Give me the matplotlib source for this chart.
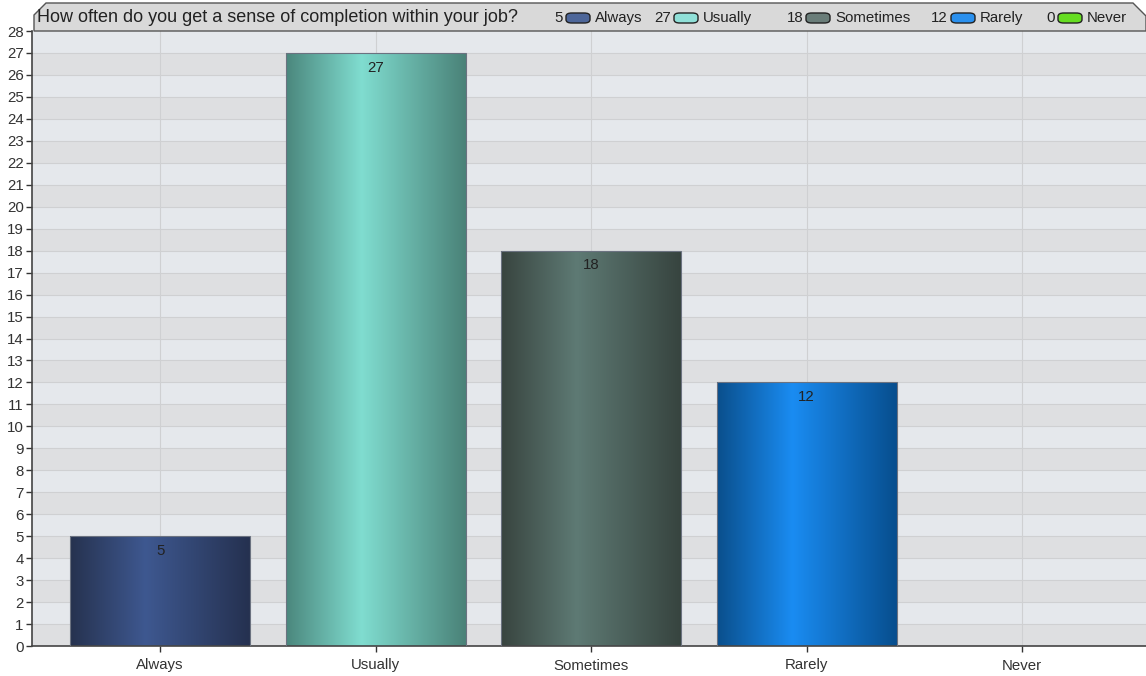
import numpy as np
import matplotlib
matplotlib.use("Agg")
import matplotlib.pyplot as plt
from matplotlib.colors import LinearSegmentedColormap
from matplotlib.patches import Rectangle, Polygon, FancyBboxPatch

plt.rcParams['font.family'] = ['Liberation Sans', 'DejaVu Sans']

title = "How often do you get a sense of completion within your job?"
categories = ["Always", "Usually", "Sometimes", "Rarely", "Never"]
values = [5, 27, 18, 12, 0]
# (edge, centre, right edge) colours of each bar's gradient
edge_colors = ["#26324f", "#4b877d", "#38443f", "#0a4f8c", "#3e9a10"]
mid_colors = ["#3e5890", "#80ddd0", "#5e7a74", "#1a8cf2", "#66dd22"]
right_colors = ["#253150", "#4a8278", "#37443f", "#074e8e", "#3e9a10"]
legend_colors = ["#4d6699", "#90e0d8", "#6a7d79", "#2a90ee", "#66dd22"]

W, H = 1146, 676
fig = plt.figure(figsize=(W / 100, H / 100), dpi=100)
ax = fig.add_axes([32 / W, 1 - 646 / H, 1 - 32 / W, (646 - 31) / H])

ymax = 28
ax.set_xlim(-0.595, 4.575)
ax.set_ylim(0, ymax)

# alternating bands
for k in range(ymax):
    c = "#e5e8ec" if (ymax - k) % 2 == 1 else "#dedfe1"
    ax.axhspan(k, k + 1, color=c, zorder=0, lw=0)
for k in range(1, ymax):
    ax.axhline(k, color="#cfd0d2", lw=0.8, zorder=0.5)
for i in range(len(categories)):
    ax.axvline(i, color="#cfd0d2", lw=0.8, zorder=0.5)

width = 0.835
for i, v in enumerate(values):
    if v <= 0:
        continue
    cmap = LinearSegmentedColormap.from_list(
        "g%d" % i, [(0, edge_colors[i]), (0.42, mid_colors[i]), (1, right_colors[i])])
    x0 = i - width / 2
    grad = np.linspace(0, 1, 256).reshape(1, -1)
    im = ax.imshow(grad, cmap=cmap, aspect="auto", extent=(x0, x0 + width, 0, v),
                   zorder=2, interpolation="bilinear")
    rect = Rectangle((x0, 0), width, v, fc="none", ec="#6b7280", lw=0.8, zorder=3)
    ax.add_patch(rect)
    im.set_clip_path(rect)
    ax.text(i, v - 0.35, str(v), ha="center", va="top", fontsize=10.8, color="#222222",
            zorder=4)

ax.set_xlim(-0.595, 4.575)
ax.set_ylim(0, ymax)
ax.set_yticks(range(0, ymax + 1))
ax.set_xticks(range(len(categories)))
ax.set_xticklabels(categories)
ax.tick_params(axis="both", labelsize=10.8, colors="#333333", length=4, width=1)
ax.tick_params(axis="y", pad=2)
ax.tick_params(axis="x", pad=5)
for s in ["top", "right"]:
    ax.spines[s].set_visible(False)
for s in ["left", "bottom"]:
    ax.spines[s].set_color("#444444")
    ax.spines[s].set_linewidth(1.2)

# title tab
def fx(px):
    return px / W


def fy(py):
    return 1 - py / H


tab = Polygon([(fx(34), fy(31)), (fx(34), fy(15)), (fx(46), fy(3)), (fx(1133), fy(3)),
               (fx(1146), fy(16)), (fx(1146), fy(31))], closed=True,
              transform=fig.transFigure, fc="#d9d9d9", ec="#555555", lw=1.0, zorder=5)
fig.patches.append(tab)
fig.text(fx(37), fy(18), title, ha="left", va="center", fontsize=13, color="#222222",
         zorder=7)

leg_x = [566, 674, 806, 951, 1058]
for i, cat in enumerate(categories):
    px = leg_x[i]
    fig.text(fx(px - 3), fy(18), str(values[i]), ha="right", va="center", fontsize=10.8,
             color="#222222", zorder=7)
    pill = FancyBboxPatch((fx(px), fy(23)), fx(24), 10 / H,
                          boxstyle="round,pad=0,rounding_size=0.005",
                          transform=fig.transFigure, fc=legend_colors[i], ec="#222222",
                          lw=1.0, zorder=6)
    fig.patches.append(pill)
    fig.text(fx(px + 29), fy(18), cat, ha="left", va="center", fontsize=10.8,
             color="#222222", zorder=7)

fig.savefig("out.png", dpi=100)
